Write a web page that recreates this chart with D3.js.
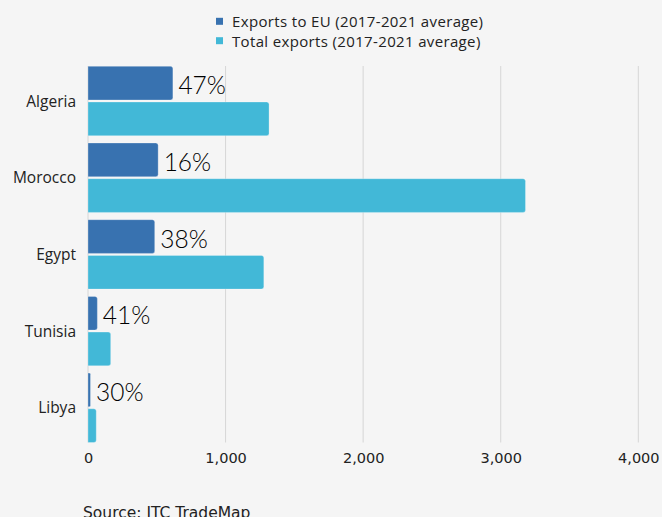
<!DOCTYPE html>
<html>
<head>
<meta charset="utf-8">
<script src="https://cdn.jsdelivr.net/npm/d3@7"></script>
<style>
  html, body { margin: 0; padding: 0; background: #f5f5f5; }
  svg { display: block; }
</style>
</head>
<body>
<svg id="chart" width="662" height="517"></svg>
<script>
// Exports of North African countries, USD millions
const countries = ["Algeria", "Morocco", "Egypt", "Tunisia", "Libya"];
const exportsEU = [617, 510, 485, 68, 18];
const exportsTotal = [1316, 3180, 1278, 165, 60];
const seriesNames = ["Exports to EU (2017-2021 average)", "Total exports (2017-2021 average)"];
const xTicks = [0, 1000, 2000, 3000, 4000];
const sourceNote = "Source: ITC TradeMap";

const colors = ["#3872b0", "#42b8d7"];
const keys = ["eu", "total"];

const rows = countries.map((c, i) => ({
  country: c,
  eu: exportsEU[i],
  total: exportsTotal[i],
  share: Math.round(exportsEU[i] / exportsTotal[i] * 100)
}));

const svg = d3.select("#chart");

const x = d3.scaleLinear().domain([0, 4000]).range([88, 638.3]);
const y0 = d3.scaleBand().domain(countries).range([66.3, 442.5]).paddingInner(0.095).paddingOuter(0);
const y1 = d3.scaleBand().domain(keys).range([0, y0.bandwidth()]).paddingInner(0.056);

// vertical gridlines
svg.append("g")
  .selectAll("line")
  .data(xTicks)
  .join("line")
  .attr("x1", d => x(d)).attr("x2", d => x(d))
  .attr("y1", 66).attr("y2", 442.5)
  .attr("stroke", "#d6d6d6")
  .attr("stroke-width", 1);

// bars, flat on the axis side, rounded at the end
function barPath(x0, x1, yTop, h, r) {
  const w = x1 - x0;
  const rr = Math.min(r, w / 2, h / 2);
  return `M${x0},${yTop}H${x1 - rr}Q${x1},${yTop} ${x1},${yTop + rr}` +
         `V${yTop + h - rr}Q${x1},${yTop + h} ${x1 - rr},${yTop + h}H${x0}Z`;
}

const groups = svg.append("g")
  .selectAll("g")
  .data(rows)
  .join("g")
  .attr("transform", d => `translate(0,${y0(d.country)})`);

groups.selectAll("path")
  .data(d => keys.map((k, i) => ({ key: k, value: d[k], color: colors[i] })))
  .join("path")
  .attr("d", d => barPath(x(0), x(d.value), y1(d.key), y1.bandwidth(), 2.5))
  .attr("fill", d => d.color)
  .attr("stroke", "rgba(255,255,255,0.35)")
  .attr("stroke-width", 0.8);

// EU share labels
groups.append("text")
  .attr("x", d => x(d.eu) + 5.5)
  .attr("y", y1("eu") + 28)
  .attr("font-family", "Lato, sans-serif")
  .attr("font-weight", 300)
  .attr("font-size", 24.5)
  .attr("fill", "#000")
  .text(d => d.share + "%");

// category labels
groups.append("text")
  .attr("x", 76)
  .attr("y", y0.bandwidth() / 2 + 5.5)
  .attr("text-anchor", "end")
  .attr("font-family", "'Open Sans', sans-serif")
  .attr("font-size", 15.5)
  .attr("fill", "#222")
  .text(d => d.country);

// x axis labels
const xAxis = d3.axisBottom(x).tickValues(xTicks).tickSize(0).tickPadding(0)
  .tickFormat(d3.format(","));
const ax = svg.append("g").attr("transform", "translate(0,453)").call(xAxis);
ax.select(".domain").remove();
ax.selectAll("text")
  .attr("font-family", "'DejaVu Sans', sans-serif")
  .attr("font-size", 14.5)
  .attr("fill", "#222");

// legend
const legend = svg.append("g")
  .selectAll("g")
  .data(seriesNames)
  .join("g")
  .attr("transform", (d, i) => `translate(216,${27.3 + i * 19.4})`);
legend.append("rect")
  .attr("x", 0).attr("y", -9.5)
  .attr("width", 7).attr("height", 7)
  .attr("fill", (d, i) => colors[i]);
legend.append("text")
  .attr("x", 16)
  .attr("y", 0)
  .attr("font-family", "'Open Sans', sans-serif")
  .attr("font-size", 15)
  .attr("letter-spacing", 0.35)
  .attr("fill", "#222")
  .text(d => d);

// source note
svg.append("text")
  .attr("x", 83)
  .attr("y", 518)
  .attr("font-family", "'DejaVu Sans', sans-serif")
  .attr("font-size", 15.5)
  .attr("fill", "#222")
  .text(sourceNote);
</script>
</body>
</html>
